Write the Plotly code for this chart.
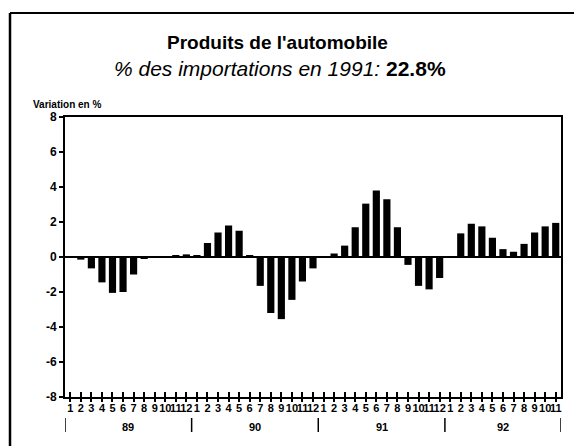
import plotly.graph_objects as go

years = ["89", "90", "91", "92"]
months_per_year = [12, 12, 12, 11]
values = [
    # 1989
    0.05, -0.15, -0.65, -1.45, -2.05, -2.0, -1.0, -0.1, 0.05, 0.05, 0.1, 0.15,
    # 1990
    0.1, 0.8, 1.4, 1.8, 1.5, 0.1, -1.65, -3.2, -3.55, -2.45, -1.4, -0.65,
    # 1991
    0.05, 0.2, 0.65, 1.7, 3.05, 3.8, 3.3, 1.7, -0.45, -1.65, -1.85, -1.2,
    # 1992
    0.05, 1.35, 1.9, 1.75, 1.1, 0.45, 0.3, 0.75, 1.4, 1.75, 1.95,
]
month_labels = [str(m + 1) for n in months_per_year for m in range(n)]
y_ticks = [-8, -6, -4, -2, 0, 2, 4, 6, 8]

x = list(range(len(values)))
font_family = "Liberation Sans, Arial, sans-serif"

fig = go.Figure()
fig.add_trace(go.Bar(x=x, y=values, marker=dict(color="black", line=dict(width=0)),
                     width=0.68, showlegend=False))
# dummy trace for overlay axis (outside ticks)
fig.add_trace(go.Scatter(x=[x[0]], y=[0], xaxis="x2", mode="markers",
                         marker=dict(opacity=0), showlegend=False, hoverinfo="skip"))

n = len(values)
PW, PH = 496, 280  # plot area size in px
L, B = 65, 397     # plot area left / bottom in page px (page has 8px body margin)

def px(xp):
    return (xp - L) / PW

def py(yp):
    return (B - yp) / PH

fig.update_layout(
    width=582, height=446,
    margin=dict(l=57, r=29, t=109, b=57),
    paper_bgcolor="white", plot_bgcolor="white",
    font=dict(family=font_family, color="black"),
    bargap=0.3,
    xaxis=dict(range=[-0.5, n - 0.5], tickmode="array", tickvals=x,
               ticktext=["<b>" + t + "</b>" for t in month_labels],
               tickangle=0, ticks="inside", ticklen=5, tickwidth=1.5, tickcolor="black",
               showgrid=False, zeroline=False, showline=True, linecolor="black", linewidth=2,
               mirror=True, tickfont=dict(size=11, family=font_family)),
    xaxis2=dict(range=[-0.5, n - 0.5], overlaying="x", side="bottom", tickmode="array",
                tickvals=x, ticktext=["" for _ in x], ticks="outside", ticklen=4,
                tickwidth=1.5, tickcolor="black", showgrid=False, zeroline=False,
                showline=False),
    yaxis=dict(range=[-8, 8], tickmode="array", tickvals=y_ticks,
               ticktext=["<b>" + str(v) + "</b>" for v in y_ticks],
               ticks="outside", ticklen=4, tickwidth=2, tickcolor="black",
               showgrid=False, zeroline=True, zerolinecolor="black", zerolinewidth=2,
               showline=True, linecolor="black", linewidth=2, mirror=True,
               tickfont=dict(size=12, family=font_family)),
)

# title & subtitle
fig.add_annotation(text="<b>Produits de l'automobile</b>", xref="paper", yref="paper",
                   x=px(277), y=py(42), showarrow=False,
                   font=dict(size=19, family=font_family), xanchor="center", yanchor="middle")
fig.add_annotation(text="<i>% des importations en 1991:</i> <b>22.8%</b>", xref="paper",
                   yref="paper", x=px(280), y=py(69), showarrow=False,
                   font=dict(size=21, family=font_family), xanchor="center", yanchor="middle")
fig.add_annotation(text="<b>Variation en %</b>", xref="paper", yref="paper",
                   x=px(31), y=py(105), showarrow=False,
                   font=dict(size=10, family=font_family), xanchor="left", yanchor="middle")

# year labels and separators
start = 0
for yr, cnt in zip(years, months_per_year):
    fig.add_annotation(text="<b>" + yr + "</b>", xref="x", yref="paper",
                       x=start + (cnt - 1) / 2, y=py(427), showarrow=False,
                       font=dict(size=11, family=font_family), xanchor="center",
                       yanchor="middle")
    fig.add_shape(type="line", xref="x", yref="paper", x0=start - 0.5, x1=start - 0.5,
                  y0=py(418), y1=py(432), line=dict(color="black", width=1.5))
    start += cnt
fig.add_shape(type="line", xref="x", yref="paper", x0=start - 0.5, x1=start - 0.5,
              y0=py(418), y1=py(432), line=dict(color="black", width=1.5))

# outer frame lines (left and top)
fig.add_shape(type="line", xref="paper", yref="paper", x0=px(10), x1=px(10),
              y0=py(13), y1=py(446), line=dict(color="black", width=2.5))
fig.add_shape(type="line", xref="paper", yref="paper", x0=px(10), x1=px(582),
              y0=py(13), y1=py(13), line=dict(color="black", width=2))

fig.write_html("out.html")
